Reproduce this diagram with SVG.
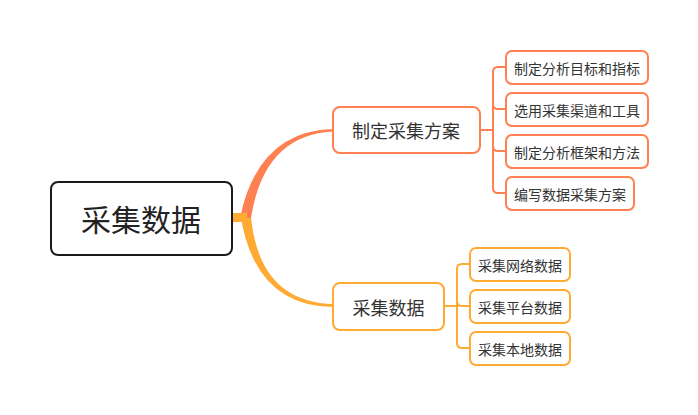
<svg xmlns="http://www.w3.org/2000/svg" width="698" height="415" viewBox="0 0 698 415">
<style>
text{font-family:"Noto Sans CJK SC","Noto Sans",sans-serif;fill:#333;text-anchor:middle;dominant-baseline:central}
.c1{stroke:#FF8050}
.c2{stroke:#FFAA33}
.box{fill:#fff;stroke-width:2}
.ln{fill:none;stroke-width:2}
.t1{font-size:18px}
.t2{font-size:14px}
</style>
<rect width="698" height="415" fill="#fff"/>
<g id="connectors">
<path d="M240,218 Q258,131 333,129 L333,131.5 Q264,135 251,218 Z" fill="#FF8050"/>
<path d="M241,218 Q256,306 333,307 L333,304 Q260,302 251,218 Z" fill="#FFAA33"/>
<rect x="232" y="213" width="15" height="9" fill="#FFAA33"/>
<path class="ln c1" d="M480,130 H493 M506,67 H498 Q493,67 493,72 V188 Q493,193 498,193 H506 M493,104 Q493,109 498,109 H506 M493,146 Q493,151 498,151 H506"/>
<path class="ln c2" d="M444,306 H457 M470,264 H462 Q457,264 457,269 V343 Q457,348 462,348 H470 M457,301 Q457,306 462,306 H470"/>
</g>
<g id="root">
<rect x="51" y="182" width="181" height="73" rx="7" fill="#fff" stroke="#1a1a1a" stroke-width="2"/>
<text x="141" y="218" style="font-size:30px;fill:#222">采集数据</text>
</g>
<g id="n1">
<rect class="box c1" x="333" y="107" width="147" height="46" rx="7"/>
<text class="t1" x="406" y="130">制定采集方案</text>
</g>
<g id="n1a">
<rect class="box c1" x="506" y="51" width="142" height="33" rx="6"/>
<text class="t2" x="577" y="67.5">制定分析目标和指标</text>
</g>
<g id="n1b">
<rect class="box c1" x="506" y="93" width="142" height="33" rx="6"/>
<text class="t2" x="577" y="109.5">选用采集渠道和工具</text>
</g>
<g id="n1c">
<rect class="box c1" x="506" y="135" width="142" height="33" rx="6"/>
<text class="t2" x="577" y="151.5">制定分析框架和方法</text>
</g>
<g id="n1d">
<rect class="box c1" x="506" y="177" width="128" height="33" rx="6"/>
<text class="t2" x="570" y="193.5">编写数据采集方案</text>
</g>
<g id="n2">
<rect class="box c2" x="333" y="283" width="111" height="47" rx="7"/>
<text class="t1" x="388.5" y="306.5">采集数据</text>
</g>
<g id="n2a">
<rect class="box c2" x="470" y="248" width="100" height="33" rx="6"/>
<text class="t2" x="520" y="264.5">采集网络数据</text>
</g>
<g id="n2b">
<rect class="box c2" x="470" y="290" width="100" height="33" rx="6"/>
<text class="t2" x="520" y="306.5">采集平台数据</text>
</g>
<g id="n2c">
<rect class="box c2" x="470" y="332" width="100" height="33" rx="6"/>
<text class="t2" x="520" y="348.5">采集本地数据</text>
</g>
</svg>
